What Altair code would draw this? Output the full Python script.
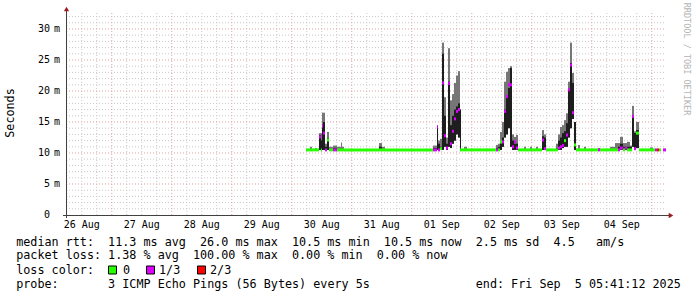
import altair as alt
import pandas as pd

# ---------------- data ----------------
# segment edges, hours after 2025-08-26 00:00 (graph ends 2025-09-05 05:41:12)
seg_edges = [
    101.69, 103.29, 104.09, 105.29, 106.09, 106.89, 107.69, 108.09, 108.49, 109.29,
    110.09, 110.89, 112.49, 114.09, 115.69, 116.09, 116.89, 130.89, 132.09, 133.29,
    152.49, 154.09, 154.49, 155.29, 156.09, 156.89, 157.69, 158.49, 159.29, 160.09,
    160.89, 161.69, 162.49, 163.29, 163.69, 164.89, 166.09, 177.69, 178.49, 179.29,
    180.09, 180.89, 181.69, 182.49, 183.29, 184.09, 184.89, 185.69, 186.49, 188.89,
    189.69, 191.29, 192.09, 193.69, 194.49, 196.09, 196.89, 197.69, 201.69, 202.49,
    203.29, 204.09, 204.89, 205.69, 206.49, 207.29, 208.09, 208.89, 209.69, 210.49,
    211.29, 212.89, 213.69, 218.49, 219.29, 223.29, 225.29, 226.49, 227.29, 228.49,
    229.29, 230.09, 231.29, 232.09, 232.89, 233.69, 234.89, 239.29, 240.49, 241.29,
    242.09, 242.89, 243.69, 244.49, 245.69]

# rtt in ms per segment
smoke_min = [
    10.5, 10.5, 10.5, 10.5, 10.5, 10.5, 10.5, 10.5, 10.5, 10.5,
    10.5, 10.5, 10.5, 10.5, 10.5, 10.5, 10.5, 10.5, 10.5, 10.5,
    10.5, 10.5, 10.5, 10.5, 10.5, 11.0, 10.5, 11.0, 10.8, 11.5,
    12.0, 13.0, 12.5, 10.5, 10.5, 10.5, 10.5, 10.5, 10.5, 10.5,
    11.0, 12.5, 13.0, 14.0, 11.0, 10.5, 10.5, 10.5, 10.5, 10.5,
    10.5, 10.5, 10.5, 10.5, 10.5, 10.5, 10.5, 10.5, 10.5, 10.5,
    10.5, 10.8, 11.0, 11.0, 12.5, 14.0, 15.5, 10.5, 10.5, 10.5,
    10.5, 10.5, 10.5, 10.5, 10.5, 10.5, 10.5, 10.5, 10.5, 10.5,
    10.5, 10.5, 10.5, 11.0, 10.5, 10.8, 10.5, 10.5, 10.5, 10.5,
    10.5, 10.5, None, 10.5]
smoke_mid = [
    10.5, 10.5, 10.5, 10.5, 10.5, 12.9, 12.0, 14.1, 15.0, 11.0,
    12.4, 10.5, 10.8, 10.5, 10.5, 10.5, 10.5, 11.0, 10.5, 10.5,
    10.8, 14.2, 11.5, 11.0, 26.0, 16.0, 11.5, 21.5, 14.5, 16.0,
    17.0, 17.5, 18.0, 17.0, 10.5, 10.5, 10.5, 10.8, 11.0, 11.5,
    12.5, 17.0, 19.0, 20.5, 23.7, 12.0, 11.5, 11.5, 10.5, 10.5,
    10.5, 10.5, 10.5, 10.5, 10.5, 12.7, 12.5, 10.5, 10.8, 12.0,
    12.5, 13.2, 13.5, 14.8, 20.2, 24.5, 21.3, 15.0, 10.5, 10.5,
    10.5, 10.5, 10.5, 10.5, 10.5, 10.5, 10.5, 11.0, 11.5, 11.0,
    11.0, 11.0, 11.0, 15.9, 13.2, 13.7, 10.5, 10.5, 10.5, 10.5,
    10.5, 10.5, None, 10.5]
smoke_max = [
    10.5, 11.0, 10.5, 10.8, 10.5, 13.2, 13.2, 16.5, 16.5, 11.5,
    13.4, 11.0, 11.2, 11.0, 11.7, 11.0, 10.5, 11.6, 11.0, 10.5,
    11.2, 14.5, 12.0, 12.3, 27.8, 19.0, 12.5, 26.9, 18.5, 19.5,
    21.3, 22.5, 23.2, 17.0, 10.5, 11.0, 10.5, 11.3, 11.5, 13.4,
    15.0, 21.5, 23.1, 23.7, 24.0, 13.0, 12.6, 12.9, 10.5, 11.0,
    10.5, 11.0, 10.5, 11.0, 10.5, 13.7, 13.0, 10.5, 11.5, 13.0,
    14.2, 14.5, 15.3, 16.4, 21.5, 27.8, 22.9, 15.0, 10.5, 11.3,
    10.5, 11.0, 10.5, 10.8, 10.5, 11.0, 11.6, 11.6, 12.6, 11.6,
    11.6, 11.8, 11.2, 17.6, 13.5, 15.0, 10.5, 10.9, 10.5, 10.5,
    10.5, 10.5, None, 10.5]
median_rtt = [
    10.5, 10.5, 10.5, 10.5, 10.5, 12.6, 10.5, 14.4, 13.2, 10.5,
    12.1, 10.5, 10.5, 10.5, 10.5, 10.5, 10.5, 10.5, 10.5, 10.5,
    10.5, 14.2, 10.5, 10.7, 21.3, 12.8, 10.8, 21.2, 11.5, 13.5,
    15.5, 16.7, 17.0, 10.5, 10.5, 10.5, 10.5, 10.5, 10.5, 11.8,
    11.8, 16.7, 19.1, 21.0, 21.0, 11.0, 11.8, 10.8, 10.5, 10.5,
    10.5, 10.5, 10.5, 10.5, 10.5, 12.1, 10.7, 10.5, 10.5, 10.8,
    11.0, 11.2, 12.0, 12.9, 20.2, 24.2, 16.5, 11.3, 10.5, 10.5,
    10.5, 10.5, 10.5, 10.5, 10.5, 10.5, 10.5, 10.5, 10.8, 10.5,
    10.8, 10.5, 10.5, 15.9, 10.7, 13.2, 10.5, 10.5, 10.5, 10.5,
    10.5, 10.5, None, 10.5]
# lost pings out of 3
loss_count = [
    0, 0, 0, 0, 0, 1, 0, 1, 1, 1,
    0, 0, 1, 0, 0, 0, 0, 0, 0, 0,
    1, 1, 1, 0, 1, 1, 1, 1, 1, 1,
    1, 1, 1, 0, 0, 0, 0, 1, 0, 0,
    1, 1, 1, 1, 1, 1, 1, 1, 0, 0,
    0, 0, 0, 0, 0, 1, 1, 0, 0, 1,
    1, 1, 0, 1, 1, 1, 1, 0, 0, 0,
    0, 0, 0, 1, 0, 0, 0, 1, 1, 0,
    1, 0, 0, 1, 1, 0, 0, 0, 0, 1,
    2, 0, None, 1]

x_label_hours = [12, 36, 60, 84, 108, 132, 156, 180, 204, 228]
x_labels = ["26 Aug", "27 Aug", "28 Aug", "29 Aug", "30 Aug",
            "31 Aug", "01 Sep", "02 Sep", "03 Sep", "04 Sep"]
y_tick_values = [0, 5, 10, 15, 20, 25, 30]
y_unit = "m"
y_title = "Seconds"
watermark = "RRDTOOL / TOBI OETIKER"

loss_labels = ["0", "1/3", "2/3"]
loss_colors = ["#26ff00", "#dd00ff", "#ff0000"]

legend_row1 = [(0, "median rtt:"), (13, "11.3 ms avg"), (26, "26.0 ms max"),
               (39, "10.5 ms min"), (52, "10.5 ms now"), (65, "2.5 ms sd"),
               (76, "4.5"), (82, "am/s")]
legend_row2 = [(0, "packet loss:"), (13, "1.38 % avg"), (25, "100.00 % max"),
               (39, "0.00 % min"), (51, "0.00 % now")]
legend_row3 = [(0, "loss color:")]
legend_row4 = [(0, "probe:"), (13, "3 ICMP Echo Pings (56 Bytes) every 5s"),
               (65, "end: Fri Sep"), (79, "5 05:41:12 2025")]

# ---------------- layout ----------------
W, H = 600, 202
X0, X1 = 5.687, 245.687
YTOP = 32.58
MONO = "DejaVu Sans Mono"

xs = alt.Scale(domain=[X0, X1], nice=False, zero=False)
ys = alt.Scale(domain=[0, YTOP], nice=False, zero=False)

seg = pd.DataFrame({
    "t0": seg_edges[:-1], "t1": seg_edges[1:],
    "lo": smoke_min, "mid": smoke_mid, "hi": smoke_max,
    "med": median_rtt, "loss": loss_count,
})

# grid lines
h_minor = [v for v in range(1, 33) if v % 5]
h_major = [v for v in range(5, 31, 5)]
v_minor = [h for h in range(6, 241, 6) if h % 24]
v_major = [h for h in range(24, 241, 24)]

def hgrid(vals, color):
    return alt.Chart(pd.DataFrame({"v": vals})).mark_rule(
        color=color, strokeWidth=1, strokeDash=[1, 2]
    ).encode(y=alt.Y("v:Q", scale=ys, axis=None),
             x=alt.value(0), x2=alt.value(W))

def vgrid(vals, color):
    return alt.Chart(pd.DataFrame({"h": vals})).mark_rule(
        color=color, strokeWidth=1, strokeDash=[1, 2]
    ).encode(x=alt.X("h:Q", scale=xs, axis=None),
             y=alt.value(0), y2=alt.value(H))

MINOR = "#c8c8c8"
MAJOR = "#e4a0a0"

base = alt.Chart(seg).transform_filter("isValid(datum.med)")

smoke_gray = base.mark_rect(color="#767676").encode(
    x=alt.X("t0:Q", scale=xs, axis=None), x2="t1:Q",
    y=alt.Y("lo:Q", scale=ys, axis=None), y2="hi:Q")
smoke_dark = base.mark_rect(color="#1e1e1e").encode(
    x=alt.X("t0:Q", scale=xs, axis=None), x2="t1:Q",
    y=alt.Y("lo:Q", scale=ys, axis=None), y2="mid:Q")
median = base.transform_calculate(
    m0="datum.med - 0.242", m1="datum.med + 0.242"
).mark_rect().encode(
    x=alt.X("t0:Q", scale=xs, axis=None), x2="t1:Q",
    y=alt.Y("m0:Q", scale=ys, axis=None), y2="m1:Q",
    color=alt.Color("loss:O", scale=alt.Scale(domain=[0, 1, 2], range=loss_colors),
                    legend=None))

one = pd.DataFrame({"a": [0]})
AX = "#404040"
ARROW = "#9b1c1c"
axis_left = alt.Chart(one).mark_rule(color=AX, strokeWidth=1).encode(
    x=alt.value(0.5), y=alt.value(-3), y2=alt.value(H + 3))
axis_bottom = alt.Chart(one).mark_rule(color=AX, strokeWidth=1).encode(
    x=alt.value(-3), x2=alt.value(W + 3), y=alt.value(H + 0.5))
arrow_up = alt.Chart(one).mark_point(shape="triangle-up", filled=True, size=28,
                                      color=ARROW, opacity=1).encode(
    x=alt.value(0.5), y=alt.value(-4))
arrow_right = alt.Chart(one).mark_point(shape="triangle-right", filled=True, size=28,
                                         color=ARROW, opacity=1).encode(
    x=alt.value(W + 5), y=alt.value(H + 0.5))

xlab = alt.Chart(pd.DataFrame({"h": x_label_hours, "lab": x_labels})).mark_text(
    font=MONO, fontSize=10, color="#000", align="center", baseline="alphabetic"
).encode(x=alt.X("h:Q", scale=xs, axis=None), y=alt.value(H + 13), text="lab:N")

ydf = pd.DataFrame({"v": y_tick_values,
                    "num": [str(v) for v in y_tick_values],
                    "unit": [y_unit if v else "" for v in y_tick_values]})
ynum = alt.Chart(ydf).mark_text(
    font=MONO, fontSize=10, color="#000", align="right", baseline="middle"
).encode(y=alt.Y("v:Q", scale=ys, axis=None), x=alt.value(-16), text="num:N")
yunit = alt.Chart(ydf).mark_text(
    font=MONO, fontSize=10, color="#000", align="left", baseline="middle"
).encode(y=alt.Y("v:Q", scale=ys, axis=None), x=alt.value(-12), text="unit:N")

ytitle = alt.Chart(one).mark_text(
    font=MONO, fontSize=11.75, color="#000", angle=270, align="center", baseline="middle"
).encode(x=alt.value(-56), y=alt.value(100), text=alt.value(y_title))

wm = alt.Chart(one).mark_text(
    font=MONO, fontSize=8.5, color="#b4b4b4", angle=90, align="center", baseline="middle"
).encode(x=alt.value(621), y=alt.value(46), text=alt.value(watermark))

CW = 7.07
LX = 16.2 - 66
rows = [(legend_row1, 229.0), (legend_row2, 242.3), (legend_row3, 256.5), (legend_row4, 270.5)]
leg_recs = []
for items, yy in rows:
    for col, txt in items:
        leg_recs.append({"px": LX + col * CW, "py": yy, "txt": txt})
# loss colour entries
for px, txt in zip([123 - 66, 159 - 66, 210 - 66], loss_labels):
    leg_recs.append({"px": px, "py": 256.5, "txt": txt})
legend_text = alt.Chart(pd.DataFrame(leg_recs)).mark_text(
    font=MONO, fontSize=11.75, color="#000", align="left", baseline="middle"
).encode(x=alt.X("px:Q", scale=None), y=alt.Y("py:Q", scale=None), text="txt:N")

boxes = []
for bx, col in zip([108 - 66, 146 - 66, 197 - 66], loss_colors):
    boxes.append(alt.Chart(one).mark_rect(color=col, stroke="#000", strokeWidth=1).encode(
        x=alt.value(bx + 0.5), x2=alt.value(bx + 8.5),
        y=alt.value(252.5 + 0.5), y2=alt.value(260.5 + 0.5)))

chart = alt.layer(
    hgrid(h_minor, MINOR), vgrid(v_minor, MINOR),
    hgrid(h_major, MAJOR), vgrid(v_major, MAJOR),
    smoke_gray, smoke_dark, median,
    axis_left, axis_bottom, arrow_up, arrow_right,
    xlab, ynum, yunit, ytitle, wm, legend_text, *boxes
).properties(
    width=W, height=H,
    autosize=alt.AutoSizeParams(type="none"),
    padding={"left": 66, "top": 13, "right": 31, "bottom": 82},
    background="white",
).configure_view(stroke=None)

chart.save("out.html", embed_options={"renderer": "svg", "actions": False})
